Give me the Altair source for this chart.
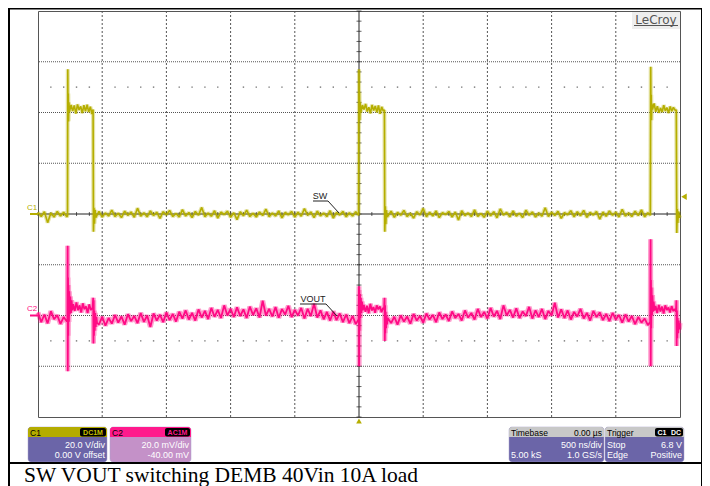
import altair as alt
import pandas as pd

# ---------------- scope settings (from the info boxes) ----------------
SW_VDIV = 20.0        # C1: 20.0 V/div, 0.00 V offset
VOUT_MVDIV = 20.0     # C2: 20.0 mV/div
VOUT_OFFSET = -40.0   # C2: -40.00 mV offset
TRIG_LEVEL = 6.8      # trigger level, V
T_DIV = 500           # ns/div, 10 divisions, trigger at centre

# ---------------- SW trace (V) ----------------
# noise segments: (start ns, step ns, values)
sw_base_a = (-2500, 25, [0.6, -1.0, 0.9, -3.4, 0.4, -1.2, 1.0, -0.8, 0.7, -1.1])
sw_rise_1_t = [-2270, -2268, -2266, -2264, -2262, -2259]
sw_rise_1_v = [-0.6, 57.0, 38.0, 47.5, 36.5, 44.0]
sw_high_1 = (-2255, 12.5, [40.3, 43.0, 40.6, 42.8, 39.6, 43.2, 41.0, 42.4, 39.8, 42.9, 40.5, 43.1, 40.2, 42.3, 39.4])
sw_fall_1_t = [-2071, -2068, -2064, -2060, -2055, -2050]
sw_fall_1_v = [41.2, -7.0, 2.5, -3.8, 1.6, -1.4]
sw_base_b = (-2025, 25, [1.0, -1.2, 0.4, -0.8, 1.5, -1.0, 0.3, -1.4, 1.1, -0.5,
                         0.8, -1.3, 2.3, -0.9, 0.5, -1.1, 1.2, -0.6, 0.7, -1.7,
                         0.9, -0.3, 1.4, -1.0, 0.2, -1.2, 1.7, -0.8, 0.6, -1.4,
                         1.0, -0.5, 2.6, -1.1, 0.4, -0.9, 1.3, -1.6, 0.7, -0.2,
                         1.1, -1.3, 0.5, -2.2, 0.9, -0.7, 1.5, -1.0, 0.3, -1.2,
                         0.8, -0.6, 1.9, -1.1, 0.4, -0.8, 1.2, -1.5, 0.6, -0.3,
                         1.0, -1.2, 0.7, -0.9, 2.1, -0.5, 0.8, -1.4, 1.1, -0.7,
                         0.4, -1.0, 1.3, -1.6, 0.6, -0.4, 1.0, -1.1, 0.5, -0.8, 0.9])
sw_rise_2_t = [-3, 0, 2, 4, 6, 9]
sw_rise_2_v = [-0.5, 57.0, 38.0, 48.0, 37.0, 44.0]
sw_high_2 = (14, 12.5, [40.0, 42.9, 41.2, 43.4, 40.4, 42.1, 39.7, 43.0, 40.8, 42.6, 40.1, 42.8, 39.5, 42.2, 40.6])
sw_fall_2_t = [198, 201, 205, 209, 214, 219]
sw_fall_2_v = [41.0, -7.0, 3.0, -4.0, 1.5, -1.2]
sw_base_c = (225, 25, [-0.8, 1.1, -1.3, 0.6, -0.5, 1.4, -1.0, 0.3, -1.6, 0.9,
                       -0.4, 2.2, -1.1, 0.7, -0.8, 1.2, -1.4, 0.5, -0.2, 1.0,
                       -1.2, 0.8, -2.4, 1.3, -0.6, 0.4, -1.0, 1.6, -0.9, 0.2,
                       -1.3, 1.1, -0.7, 0.9, -1.5, 2.0, -0.4, 0.6, -1.1, 1.2,
                       -0.8, 0.3, -1.4, 1.5, -0.5, 0.8, -1.2, 0.4, -0.9, 2.5,
                       -1.0, 0.7, -0.6, 1.1, -1.7, 0.5, -0.3, 1.3, -1.1, 0.9,
                       -0.7, 1.4, -1.3, 0.6, -0.4, 1.0, -2.0, 0.8, -0.9, 1.2,
                       -0.5, 0.7, -1.2, 1.8, -0.8, 0.4, -1.0, 1.1, -0.6, 1.6,
                       -1.1, 0.5])
sw_rise_3_t = [2269, 2272, 2274, 2276, 2278, 2281]
sw_rise_3_v = [-0.5, 58.0, 39.0, 47.0, 37.0, 43.5]
sw_high_3 = (2286, 12.5, [41.2, 43.6, 40.3, 42.5, 39.9, 41.8, 40.2, 42.9, 40.6, 41.9, 39.8, 42.4, 40.5, 42.0, 40.9])
sw_fall_3_t = [2471, 2475, 2479, 2483, 2488, 2494, 2500]
sw_fall_3_v = [41.0, -7.5, 2.0, -3.5, 1.0, -1.5, -0.5]

# ---------------- VOUT trace (mV, AC coupled) ----------------
vo_base_a = (-2500, 25, [1.2, -2.6, 0.4, -3.1, 1.7, -1.4, 0.1, -3.3, -0.6, -2.4])
vo_spike_1_t = [-2271, -2269, -2268, -2266, -2264, -2262, -2259, -2256, -2252, -2248, -2243, -2238, -2233]
vo_spike_1_v = [-2.0, 27.5, -22.0, 15.0, -8.0, 12.0, -2.5, 9.5, 0.5, 7.5, 1.0, 6.0, 2.0]
vo_high_1 = (-2226, 12.5, [4.5, 1.8, 5.2, 2.1, 4.0, 1.2, 4.8, 2.5, 3.6, 1.0, 4.4, 2.2])
vo_fall_1_t = [-2075, -2070, -2068, -2066, -2064, -2061, -2058, -2054, -2050, -2045, -2040]
vo_fall_1_v = [3.0, 7.0, -11.0, 6.0, -8.0, 2.0, -6.0, 1.0, -4.5, -0.5, -3.0]
vo_base_b = (-2025, 25, [-3.5, -0.5, -4.0, -1.0, -3.2, 0.2, -2.8, -0.4, -3.6, 0.5,
                         -2.2, -0.2, -3.0, 1.0, -2.5, 0.0, -4.5, 0.8, -2.0, 0.3,
                         -2.6, 1.2, -1.8, 0.6, -2.4, 1.5, -1.2, 2.0, -1.6, 1.0,
                         -2.0, 2.4, -0.8, 1.8, -1.4, 3.0, -0.5, 2.2, -1.0, 4.0,
                         0.0, 2.6, -0.6, 3.2, -0.2, 2.4, -1.0, 3.5, 0.2, 2.8,
                         -0.8, 5.8, 0.0, 2.6, -0.4, 3.3, -0.9, 2.5, 0.4, 3.8,
                         -0.6, 2.2, 0.0, 3.0, -1.2, 2.6, -0.2, 4.6, -0.8, 2.0,
                         -1.5, 1.4, -2.0, 1.6, -1.8, 0.8, -2.6, 0.4, -3.0, -0.2, -3.4])
vo_spike_2_t = [-3, 0, 1, 3, 5, 8, 11, 15, 19, 24, 30]
vo_spike_2_v = [-1.5, 11.5, -20.0, 10.0, -6.0, 8.5, -1.0, 7.0, 1.0, 5.5, 2.0]
vo_high_2 = (38, 12.5, [4.2, 1.5, 3.8, 0.9, 4.6, 2.0, 3.3, 1.1, 4.0, 2.4, 3.6, 1.3, 3.0])
vo_fall_2_t = [195, 199, 201, 203, 205, 208, 211, 215, 219, 223]
vo_fall_2_v = [2.5, 7.0, -10.0, 4.0, -7.0, 1.5, -5.0, 0.0, -3.5, -1.0]
vo_base_c = (250, 25, [-3.0, -0.5, -3.6, 0.0, -2.4, -0.4, -3.2, 0.6, -2.0, -0.2,
                       -2.8, 0.8, -1.6, 0.2, -2.6, 1.2, -1.4, 0.4, -2.2, 1.6,
                       -1.0, 0.6, -2.0, 2.0, -0.8, 1.0, -1.6, 2.6, -0.6, 1.4,
                       -1.2, 3.0, -0.4, 1.8, -1.4, 4.0, 0.0, 2.2, -0.8, 2.8,
                       -1.0, 1.6, -0.2, 3.4, -1.2, 2.0, -0.6, 2.6, -1.4, 1.8,
                       0.0, 5.0, -0.8, 2.4, -1.0, 2.0, -1.6, 1.4, -0.4, 2.6,
                       -1.2, 1.0, -2.0, 1.8, -0.6, 1.2, -1.8, 0.6, -2.2, 1.0,
                       -1.6, 0.2, -2.8, 0.4, -2.4, -0.2, -3.4, -0.6, -2.8, -1.2, -3.8])
vo_spike_3_t = [2268, 2271, 2272, 2274, 2276, 2279, 2282, 2286, 2290, 2295, 2301]
vo_spike_3_v = [-2.5, 30.0, -20.0, 14.0, -5.0, 11.0, 0.0, 8.0, 1.5, 5.5, 2.0]
vo_high_3 = (2310, 12.5, [3.8, 1.0, 4.2, 1.6, 3.5, 0.8, 4.0, 2.2, 3.1, 1.2, 3.7, 1.8])
vo_fall_3_t = [2460, 2468, 2472, 2474, 2476, 2479, 2482, 2486, 2490, 2495, 2500]
vo_fall_3_v = [2.5, 1.5, 6.0, -12.0, 2.0, -9.0, -1.0, -7.0, -2.0, -5.5, -3.0]

CAPTION = "SW VOUT switching DEMB 40Vin 10A load"

# ---------------- build tables ----------------
def seg(s):
    start, step, vals = s
    return [(start + i * step, v) for i, v in enumerate(vals)]

sw_rows = (seg(sw_base_a) + list(zip(sw_rise_1_t, sw_rise_1_v)) + seg(sw_high_1)
           + list(zip(sw_fall_1_t, sw_fall_1_v)) + seg(sw_base_b)
           + list(zip(sw_rise_2_t, sw_rise_2_v)) + seg(sw_high_2)
           + list(zip(sw_fall_2_t, sw_fall_2_v)) + seg(sw_base_c)
           + list(zip(sw_rise_3_t, sw_rise_3_v)) + seg(sw_high_3)
           + list(zip(sw_fall_3_t, sw_fall_3_v)))
vo_rows = (seg(vo_base_a) + list(zip(vo_spike_1_t, vo_spike_1_v)) + seg(vo_high_1)
           + list(zip(vo_fall_1_t, vo_fall_1_v)) + seg(vo_base_b)
           + list(zip(vo_spike_2_t, vo_spike_2_v)) + seg(vo_high_2)
           + list(zip(vo_fall_2_t, vo_fall_2_v)) + seg(vo_base_c)
           + list(zip(vo_spike_3_t, vo_spike_3_v)) + seg(vo_high_3)
           + list(zip(vo_fall_3_t, vo_fall_3_v)))
sw = pd.DataFrame(sw_rows, columns=["t", "v"]).sort_values("t")
vo = pd.DataFrame(vo_rows, columns=["t", "v"]).sort_values("t")

W, H = 642, 406
SW_C = "#B5AE00"
VO_C = "#FF0A84"
GRID_C = "#555555"
PURPLE = "#6B65A8"

XS = alt.Scale(domain=[-5 * T_DIV, 5 * T_DIV], nice=False, zero=False)
YS = alt.Scale(domain=[-4, 4], nice=False, zero=False)
X = alt.X("t:Q", scale=XS, axis=None)
Y = alt.Y("div:Q", scale=YS, axis=None)

major_t = [T_DIV * k for k in range(-4, 5) if k != 0]
major_d = [k for k in range(-3, 4) if k != 0]
minor_d = [k / 5 for k in range(-20, 21)]
minor_t = [T_DIV * k / 5 for k in range(-25, 26)]
dot_t = [T_DIV * k / 5 for k in range(-25, 26) if k % 5 != 0]
dots = pd.DataFrame([(t, d) for d in (2.5, -2.5) for t in dot_t], columns=["t", "div"])

ONE = pd.DataFrame({"k": [0]})

def txt(s, x, y, size=9, color="#ffffff", align="left", baseline="middle",
        font="Liberation Sans", weight="normal"):
    return alt.Chart(ONE).mark_text(text=s, align=align, baseline=baseline, fontSize=size,
                                    color=color, font=font, fontWeight=weight).encode(
        x=alt.value(x), y=alt.value(y))

def rect(x, x2, y, y2, color, **kw):
    return alt.Chart(ONE).mark_rect(color=color, **kw).encode(
        x=alt.value(x), x2=alt.value(x2), y=alt.value(y), y2=alt.value(y2))

def seg_line(x, y, x2, y2, color="#222222", width=1.0):
    return alt.Chart(ONE).mark_rule(color=color, strokeWidth=width).encode(
        x=alt.value(x), y=alt.value(y), x2=alt.value(x2), y2=alt.value(y2))

layers = []
# grid
layers.append(alt.Chart(pd.DataFrame({"t": major_t})).mark_rule(
    color=GRID_C, strokeDash=[2, 2], strokeWidth=1).encode(x=X))
layers.append(alt.Chart(pd.DataFrame({"div": major_d})).mark_rule(
    color=GRID_C, strokeDash=[1, 1], strokeWidth=1).encode(y=Y))
layers.append(alt.Chart(dots).mark_square(size=2, color="#777777", opacity=1).encode(x=X, y=Y))
# centre crosshair with minor ticks
layers.append(alt.Chart(pd.DataFrame({"t": [0]})).mark_rule(color="#222222").encode(x=X))
layers.append(alt.Chart(pd.DataFrame({"div": [0]})).mark_rule(color="#222222").encode(y=Y))
layers.append(alt.Chart(pd.DataFrame({"t": [0] * len(minor_d), "div": minor_d})).mark_tick(
    orient="horizontal", size=5, thickness=1, color="#222222").encode(x=X, y=Y))
layers.append(alt.Chart(pd.DataFrame({"t": minor_t, "div": [0] * len(minor_t)})).mark_tick(
    orient="vertical", size=4, thickness=1, color="#222222").encode(x=X, y=Y))

# traces: a soft wide underlay gives the persistence "glow" of the noisy trace
sw_chart = alt.Chart(sw).transform_calculate(div=f"datum.v / {SW_VDIV}")
vo_chart = alt.Chart(vo).transform_calculate(div=f"(datum.v + {VOUT_OFFSET}) / {VOUT_MVDIV}")
layers.append(sw_chart.mark_line(color=SW_C, strokeWidth=4, opacity=0.35,
                                 strokeJoin="bevel").encode(x=X, y=Y))
layers.append(sw_chart.mark_line(color=SW_C, strokeWidth=1.6,
                                 strokeJoin="bevel").encode(x=X, y=Y))
layers.append(vo_chart.mark_line(color=VO_C, strokeWidth=5, opacity=0.4,
                                 strokeJoin="bevel").encode(x=X, y=Y))
layers.append(vo_chart.mark_line(color=VO_C, strokeWidth=1.8,
                                 strokeJoin="bevel").encode(x=X, y=Y))

# channel ground markers
layers.append(alt.Chart(ONE).mark_rule(color=SW_C, strokeWidth=2).encode(
    x=alt.value(-8), x2=alt.value(0), y=alt.Y(datum=0, scale=YS, axis=None)))
layers.append(alt.Chart(ONE).mark_rule(color=VO_C, strokeWidth=2).encode(
    x=alt.value(-8), x2=alt.value(0), y=alt.Y(datum=VOUT_OFFSET / VOUT_MVDIV, scale=YS, axis=None)))
layers.append(txt("C1", -6, 196.5, size=8, color=SW_C, align="center"))
layers.append(txt("C2", -6, 298, size=8, color=VO_C, align="center"))

# trigger markers
layers.append(alt.Chart(ONE).mark_point(shape="triangle-up", filled=True, size=32, color=SW_C,
                                        opacity=1).encode(
    x=alt.X(datum=0, scale=XS, axis=None), y=alt.value(410)))
layers.append(alt.Chart(ONE).mark_point(shape="triangle-left", filled=True, size=40, color=SW_C,
                                        opacity=1).encode(
    x=alt.value(646), y=alt.Y(datum=TRIG_LEVEL / SW_VDIV, scale=YS, axis=None)))

# trace labels
layers.append(txt("SW", 282, 185, size=9, color="#222222", align="center"))
layers.append(seg_line(275, 190, 290, 190))
layers.append(seg_line(290, 190, 301, 202))
layers.append(txt("VOUT", 275, 287.5, size=9, color="#222222", align="center"))
layers.append(seg_line(262, 293, 288, 293))
layers.append(seg_line(288, 293, 299, 305))

# LeCroy logo
layers.append(rect(594, 642, 1, 18, "#EEEEEE"))
layers.append(txt("LeCroy", 618, 12.5, size=12, color="#555555", align="center",
                  baseline="alphabetic", font="DejaVu Sans"))
layers.append(seg_line(596, 14.5, 640, 14.5, color="#555555"))

# info boxes
def info_box(x0, x1, head_color, body_color):
    return [rect(x0, x1, 416, 451, body_color, cornerRadius=3, stroke="#A9A3CF", strokeWidth=0.5),
            rect(x0, x1, 416, 426, head_color, cornerRadiusTopLeft=3, cornerRadiusTopRight=3)]

layers += info_box(-10, 69, "#B4AC00", PURPLE)
layers.append(txt("C1", -8, 421.5, size=8.5, color="#000000"))
layers.append(rect(42, 68, 417, 425.5, "#000000", cornerRadius=2))
layers.append(txt("DC1M", 55, 421.5, size=7, color="#C8C000", align="center", weight="bold"))
layers.append(txt("20.0 V/div", 67, 434, align="right"))
layers.append(txt("0.00 V offset", 67, 444, align="right"))

layers += info_box(72, 153, "#FF1A8C", "#C491C8")
layers.append(txt("C2", 74, 421.5, size=8.5, color="#000000"))
layers.append(rect(127, 152, 417, 425.5, "#000000", cornerRadius=2))
layers.append(txt("AC1M", 139.5, 421.5, size=7, color="#FF1A8C", align="center", weight="bold"))
layers.append(txt("20.0 mV/div", 151, 434, align="right"))
layers.append(txt("-40.00 mV", 151, 444, align="right"))

layers += info_box(471, 566, "#C8C8C8", PURPLE)
layers.append(txt("Timebase", 473, 421.5, size=8.5, color="#000000"))
layers.append(txt("0.00 µs", 564, 421.5, size=8.5, color="#000000", align="right"))
layers.append(txt("500 ns/div", 564, 434, align="right"))
layers.append(txt("5.00 kS", 473, 444))
layers.append(txt("1.0 GS/s", 564, 444, align="right"))

layers += info_box(567, 646, "#C8C8C8", PURPLE)
layers.append(txt("Trigger", 569, 421.5, size=8.5, color="#000000"))
layers.append(rect(617, 645, 417, 425.5, "#000000", cornerRadius=2))
layers.append(txt("C1", 624, 421.5, size=7, color="#FFFFFF", align="center", weight="bold"))
layers.append(txt("DC", 638, 421.5, size=7, color="#FFFFFF", align="center", weight="bold"))
layers.append(txt("Stop", 569, 434))
layers.append(txt("6.8 V", 644, 434, align="right"))
layers.append(txt("Edge", 569, 444))
layers.append(txt("Positive", 644, 444, align="right"))

# document table frame and caption
layers.append(seg_line(-29, -3, -29, 475, color="#000000", width=2))
layers.append(seg_line(-30, -2.2, 665, -2.2, color="#000000", width=1.6))
layers.append(seg_line(664, -3, 664, 475, color="#000000", width=2))
layers.append(seg_line(-30, 452, 665, 452, color="#000000", width=2))
layers.append(txt(CAPTION, -14, 470.7, size=21.5, color="#000000", baseline="alphabetic",
                  font="Liberation Serif"))

chart = alt.layer(*layers).properties(
    width=W, height=H,
    autosize=alt.AutoSizeParams(type="none"),
    padding={"left": 30, "top": 3, "right": 22, "bottom": 69},
    background="#FFFFFF",
).configure_view(stroke="#555555", strokeWidth=1)

chart.save("out.html", embed_options={"renderer": "svg", "actions": False})
